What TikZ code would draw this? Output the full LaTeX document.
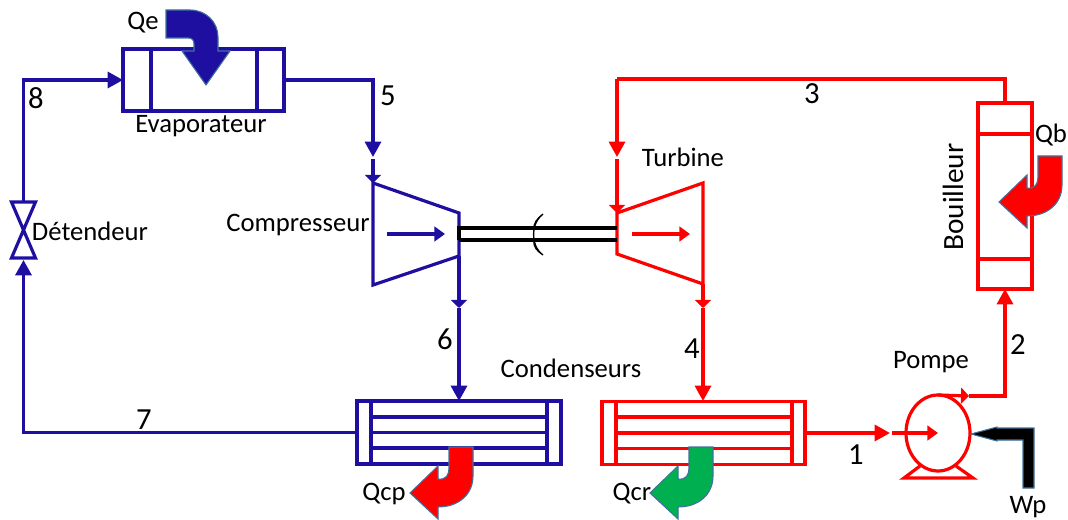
\documentclass[tikz,border=0pt]{standalone}
\usepackage{fontspec}
\setmainfont{Carlito}
\usetikzlibrary{arrows.meta,shapes.geometric}
\definecolor{cycleblue}{HTML}{1F0FA0}
\definecolor{cyclered}{HTML}{FF0000}
\definecolor{heatgreen}{HTML}{00B050}
\definecolor{edgesteel}{HTML}{41719C}
\begin{document}
\begin{tikzpicture}
  [x=.75pt,y=-.75pt,
   font=\fontsize{20}{23}\selectfont,
   lbl/.style={inner sep=0pt,align=center},
   num/.style={inner sep=0pt,font=\fontsize{23}{26}\selectfont},
   blueline/.style={draw=cycleblue,line width=2.4pt},
   redline/.style={draw=cyclered,line width=2.4pt},
   bigtip/.style={-{Triangle[length=11.5pt,width=12pt]}},
   smalltip/.style={-{Triangle[length=6pt,width=12pt]}},
   midtip/.style={-{Triangle[length=8pt,width=11pt]}},
   box/.style={rectangle,inner sep=0pt,outer sep=0pt},
   bentarrow/.pic={
     \path[pic actions,draw=edgesteel,line width=.8pt] (0,0) -- (28,-27) -- (28,-14)
       .. controls (36,-13) and (39,-18) .. (39,-25) -- (39,-46) -- (63,-46) -- (63,-17)
       .. controls (63,2) and (48,14) .. (28,14) -- (28,26) -- cycle;
   }]

  \useasboundingbox (0,0) rectangle (1068,520);

  \node[box,blueline,minimum width=120.75pt,minimum height=46.5pt] (evap) at (203.5,80) {};
  \node[box,blueline,minimum width=153pt,minimum height=47.25pt] (condp) at (459,432.5) {};
  \node[box,redline,minimum width=152.25pt,minimum height=47.25pt] (condr) at (703.5,433) {};
  \node[box,redline,minimum width=40.5pt,minimum height=139.5pt] (boil) at (1005,196) {};
  \node[ellipse,redline,inner sep=0pt,outer sep=0pt,minimum width=48pt,minimum height=57pt] (pump) at (938,433) {};

  \coordinate (compin) at (373,183);
  \coordinate (compout) at (459,256);
  \coordinate (turbin) at (617,213);
  \coordinate (turbout) at (703,284);
  \coordinate (valvetop) at (23.5,202);
  \coordinate (valvebot) at (23.5,260);
  \coordinate (c5) at (373,157);
  \coordinate (c5b) at (373,159);
  \coordinate (c3) at (617,157);
  \coordinate (c3b) at (617,159);
  \coordinate (c6) at (459,308);
  \coordinate (c4) at (703,308);
  \coordinate (c1) at (890,433);
  \coordinate (c1b) at (892,433);
  \coordinate (c2) at (969,396);

  \draw[blueline] (151,49) -- (151,111) (257,49) -- (257,111);
  \draw[blueline] (371,401) -- (371,464) (547,401) -- (547,464);
  \draw[blueline] (371,417) -- (547,417) (371,432.5) -- (547,432.5) (371,448) -- (547,448);
  \draw[redline] (616,402) -- (616,464) (792,402) -- (792,464);
  \draw[redline] (616,417) -- (792,417) (616,433) -- (792,433) (616,448.5) -- (792,448.5);
  \draw[redline] (978,134) -- (1032,134) (978,259) -- (1032,259);

  \draw[blueline,line join=miter] (compin) -- (459,213) -- (compout) -- (373,285) -- cycle;
  \draw[blueline,midtip] (387,234) -- (445,234);
  \draw[redline,line join=miter] (turbin) -- (703,183) -- (turbout) -- (617,254) -- cycle;
  \draw[redline,midtip] (632,234) -- (690,234);

  \draw[black,line width=2.4pt] (459,240) -- (459,228) -- (617,228) (459,240) -- (617,240);
  \draw[black,line width=1pt] (543,214) .. controls (531,222) and (530,246) .. (543,255);
  \fill[black] (543,214) .. controls (536,218) and (533,223) .. (533,230) .. controls (535,224) and (538,220) .. (543,214);
  \fill[black] (543,255) .. controls (536,252) and (533,247) .. (533,240) .. controls (535,246) and (538,250) .. (543,255);

  \draw[blueline] (valvetop) ++(-12,0) -- ++(24,0) -- (23.5,230) -- cycle;
  \draw[blueline] (valvebot) ++(-12,-2) -- ++(24,0) -- (23.5,230) -- cycle;

  \draw[blueline,bigtip] (valvetop) |- (evap.west);
  \draw[blueline,bigtip] (evap.east) -| (c5);
  \draw[blueline,smalltip] (c5b) -- (compin);
  \draw[blueline,smalltip] (compout) -- (c6);
  \draw[blueline,bigtip] (c6) -- (condp.north);
  \draw[blueline,bigtip] (condp.west) -| (valvebot);

  \draw[redline] (boil.north) -- (1005,79) -- (617,79);
  \draw[redline,bigtip] (617,79) -- (c3);
  \draw[redline,smalltip] (c3b) -- (turbin);
  \draw[redline,smalltip] (turbout) -- (c4);
  \draw[redline,bigtip] (c4) -- (703,401);
  \draw[redline,bigtip] (condr.east) -- (c1);
  \draw[redline,midtip] (c1b) -- (pump.center);
  \draw[redline,smalltip] (pump.north) -- (c2);
  \draw[redline,bigtip] (c2) -| (boil.south);
  \draw[redline,line join=miter] (920,466) -- (904,478) -- (973,478) -- (956,466);

  \path[fill=cycleblue,draw=edgesteel,line width=.8pt] (166,10) -- (190,10)
    .. controls (206,10) and (218,22) .. (218,37) -- (218,51) -- (230,51) -- (206,85) -- (182,51) -- (194,51) -- (194,44)
    .. controls (194,40) and (192,38) .. (188,38) -- (166,38) -- cycle;
  \pic[fill=cyclered] at (999,202) {bentarrow};
  \pic[fill=cyclered] at (410,493) {bentarrow};
  \pic[fill=heatgreen] at (650,493) {bentarrow};
  \path[fill=black,draw=edgesteel,line width=.8pt] (971,434) -- (997,427) -- (997,428) -- (1034,428) -- (1034,488)
    -- (1023,488) -- (1023,440) -- (997,440) -- (997,441) -- cycle;

  \node[lbl] (qe) at (143,23) {Qe};
  \node[lbl] (evaplabel) at (201,126) {Evaporateur};
  \node[lbl] (valvelabel) at (90,231) {Détendeur};
  \node[lbl] (complabel) at (298,225) {Compresseur};
  \node[lbl] (turblabel) at (683,157) {Turbine};
  \node[lbl] (condlabel) at (571,368) {Condenseurs};
  \node[lbl] (pumplabel) at (931,362) {Pompe};
  \node[lbl,rotate=90,font=\fontsize{22}{25}\selectfont] (boillabel) at (953,197) {Bouilleur};
  \node[lbl] (qb) at (1051,135) {Qb};
  \node[lbl] (qcp) at (384,494) {Qcp};
  \node[lbl] (qcr) at (632,494) {Qcr};
  \node[lbl] (wp) at (1028,507) {Wp};
  \node[num] (n1) at (856,455) {1};
  \node[num] (n2) at (1018,345) {2};
  \node[num] (n3) at (812,94) {3};
  \node[num] (n4) at (692,349) {4};
  \node[num] (n5) at (388,96) {5};
  \node[num] (n6) at (445,339) {6};
  \node[num] (n7) at (144,420) {7};
  \node[num] (n8) at (36,98) {8};

\end{tikzpicture}
\end{document}
